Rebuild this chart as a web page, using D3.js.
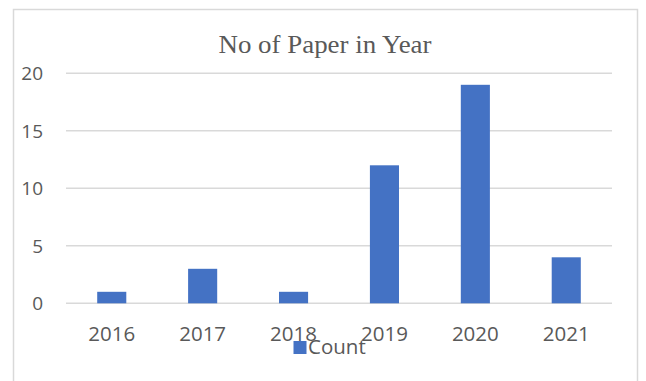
<!DOCTYPE html>
<html>
<head>
<meta charset="utf-8">
<script src="https://cdn.jsdelivr.net/npm/d3@7"></script>
<style>
  html, body { margin: 0; padding: 0; background: #ffffff; }
  svg { display: block; }
</style>
</head>
<body>
<svg id="chart" width="646" height="381"></svg>
<script>
const categories = ["2016", "2017", "2018", "2019", "2020", "2021"];
const counts = [1, 3, 1, 12, 19, 4];
const yTicks = [0, 5, 10, 15, 20];
const titleText = "No of Paper in Year";
const seriesName = "Count";

const svg = d3.select("#chart");
const W = 646, H = 381;

// outer chart border
svg.append("rect")
  .attr("x", 13.5).attr("y", 9.5)
  .attr("width", 624).attr("height", 380)
  .attr("fill", "#ffffff")
  .attr("stroke", "#d9d9d9")
  .attr("stroke-width", 1.5);

const x = d3.scaleBand()
  .domain(categories)
  .range([66.3, 611.7])
  .paddingInner(0.68)
  .paddingOuter(0.34);

const y = d3.scaleLinear()
  .domain([0, 20])
  .range([303.3, 73.3]);

// gridlines
svg.append("g")
  .selectAll("line")
  .data(yTicks)
  .join("line")
  .attr("x1", 66).attr("x2", 612)
  .attr("y1", d => y(d)).attr("y2", d => y(d))
  .attr("stroke", "#d9d9d9")
  .attr("stroke-width", 1.5);

// y labels
svg.append("g")
  .selectAll("text")
  .data(yTicks)
  .join("text")
  .attr("x", 43)
  .attr("y", d => y(d))
  .attr("dy", "0.36em")
  .attr("text-anchor", "end")
  .attr("font-family", "'Open Sans', sans-serif")
  .attr("font-size", 19)
  .attr("fill", "#595959")
  .text(d => d);

// bars
svg.append("g")
  .selectAll("rect")
  .data(categories.map((c, i) => ({c, v: counts[i]})))
  .join("rect")
  .attr("x", d => x(d.c))
  .attr("width", x.bandwidth())
  .attr("y", d => y(d.v))
  .attr("height", d => y(0) - y(d.v))
  .attr("fill", "#4472c4");

// x labels
svg.append("g")
  .selectAll("text")
  .data(categories)
  .join("text")
  .attr("x", d => x(d) + x.bandwidth() / 2)
  .attr("y", 340.5)
  .attr("text-anchor", "middle")
  .attr("font-family", "'Open Sans', sans-serif")
  .attr("font-size", 20.5)
  .attr("fill", "#595959")
  .text(d => d);

// title
svg.append("text")
  .attr("x", 325)
  .attr("y", 53.3)
  .attr("text-anchor", "middle")
  .attr("font-family", "'Liberation Serif', 'DejaVu Serif', serif")
  .attr("font-size", 25.5)
  .attr("textLength", 213)
  .attr("lengthAdjust", "spacingAndGlyphs")
  .attr("fill", "#595959")
  .text(titleText);

// legend
svg.append("rect")
  .attr("x", 293.5).attr("y", 341)
  .attr("width", 13).attr("height", 13)
  .attr("fill", "#4472c4");
svg.append("text")
  .attr("x", 308)
  .attr("y", 353.5)
  .attr("font-family", "'Open Sans', sans-serif")
  .attr("font-size", 20.5)
  .attr("fill", "#595959")
  .text(seriesName);
</script>
</body>
</html>
